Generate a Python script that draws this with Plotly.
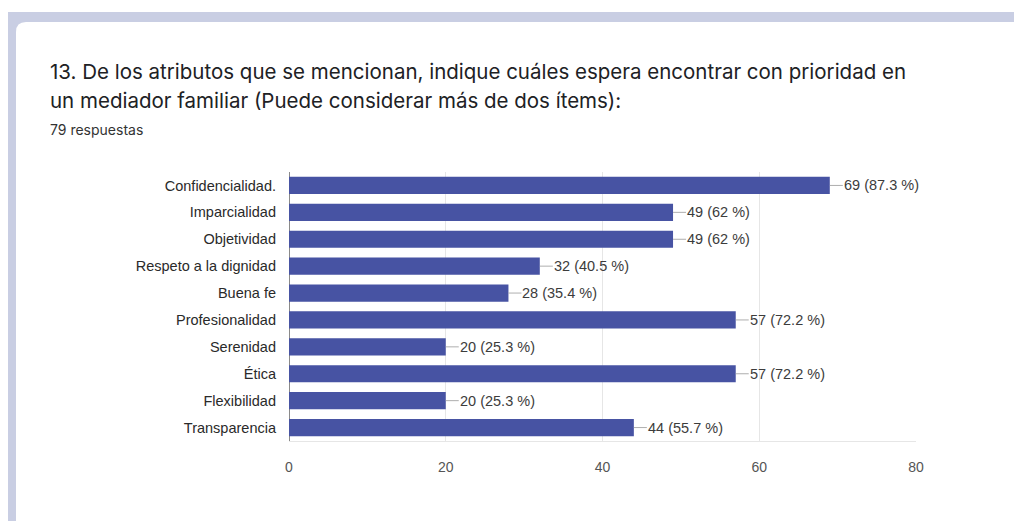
import plotly.graph_objects as go

categories = ["Confidencialidad.", "Imparcialidad", "Objetividad", "Respeto a la dignidad",
              "Buena fe", "Profesionalidad", "Serenidad", "Ética", "Flexibilidad", "Transparencia"]
counts = [69, 49, 49, 32, 28, 57, 20, 57, 20, 44]
percents = ["87.3", "62", "62", "40.5", "35.4", "72.2", "25.3", "72.2", "25.3", "55.7"]
x_ticks = [0, 20, 40, 60, 80]

W, H = 1022, 521
OFF = 8  # page body margin
L, R, T, B = 289 - OFF, 916 - OFF, 172 - OFF, 441 - OFF

def px(x):
    return (x - OFF - L) / (R - L)

def py(y):
    return (B - (y - OFF)) / (B - T)

fig = go.Figure()
fig.add_trace(go.Bar(
    y=categories, x=counts, orientation="h",
    marker=dict(color="#4753a3", line=dict(width=0)),
    width=0.64, hoverinfo="skip",
))

for c, v, p in zip(categories, counts, percents):
    fig.add_annotation(
        x=v, y=c, xref="x", yref="y",
        text=f"{v} ({p} %)", showarrow=True, arrowhead=0, arrowwidth=0.8,
        arrowcolor="#999999", ax=13, ay=0, xanchor="left", standoff=0,
        font=dict(family="Liberation Sans, Arial", size=14.5, color="#3c3c3c"),
        borderpad=0,
    )

# background bands and card
band = "#c9cee3"
fig.add_shape(type="rect", xref="paper", yref="paper", layer="below",
              x0=px(8), x1=px(W + 20), y0=py(H + 20), y1=py(12),
              fillcolor=band, line=dict(width=0))
r = 10
x0c, y0c = 16, 22
card = (f"M {px(x0c)},{py(y0c + r)} Q {px(x0c)},{py(y0c)} {px(x0c + r)},{py(y0c)} "
        f"L {px(W + 20)},{py(y0c)} L {px(W + 20)},{py(H + 20)} L {px(x0c)},{py(H + 20)} Z")
fig.add_shape(type="path", xref="paper", yref="paper", layer="below",
              path=card, fillcolor="#ffffff", line=dict(width=0))

title_font = dict(family="Inter, Roboto, sans-serif", size=20.5, color="#202124")
fig.add_annotation(xref="paper", yref="paper", x=px(48), y=py(72), xanchor="left", yanchor="middle",
                   text="13. De los atributos que se mencionan, indique cuáles espera encontrar con prioridad en",
                   showarrow=False, font=title_font)
fig.add_annotation(xref="paper", yref="paper", x=px(48), y=py(101), xanchor="left", yanchor="middle",
                   text="un mediador familiar (Puede considerar más de dos ítems):",
                   showarrow=False, font=title_font)
fig.add_annotation(xref="paper", yref="paper", x=px(48), y=py(130), xanchor="left", yanchor="middle",
                   text="79 respuestas", showarrow=False,
                   font=dict(family="Inter, Roboto, sans-serif", size=14, color="#333333"))

fig.update_layout(
    width=W, height=H,
    margin=dict(l=L, r=W - R, t=T, b=H - B, pad=0),
    paper_bgcolor="#ffffff", plot_bgcolor="rgba(0,0,0,0)",
    showlegend=False,
    xaxis=dict(range=[0, 80], tickvals=x_ticks, showgrid=True, gridcolor="#e6e6e6", gridwidth=1,
               zeroline=True, zerolinecolor="#8a8a8a", zerolinewidth=1.2,
               showline=True, linecolor="#e6e6e6", linewidth=1, ticks="",
               ticklabelstandoff=13,
               tickfont=dict(family="Liberation Sans, Arial", size=14, color="#555555"), fixedrange=True),
    yaxis=dict(categoryorder="array", categoryarray=categories, autorange=False, range=[9.5, -0.5],
               showgrid=False, zeroline=False, showline=False, ticks="", ticklabelstandoff=12,
               tickfont=dict(family="Liberation Sans, Arial", size=14.5, color="#2a2a2a"), fixedrange=True),
)

fig.write_html("out.html")
